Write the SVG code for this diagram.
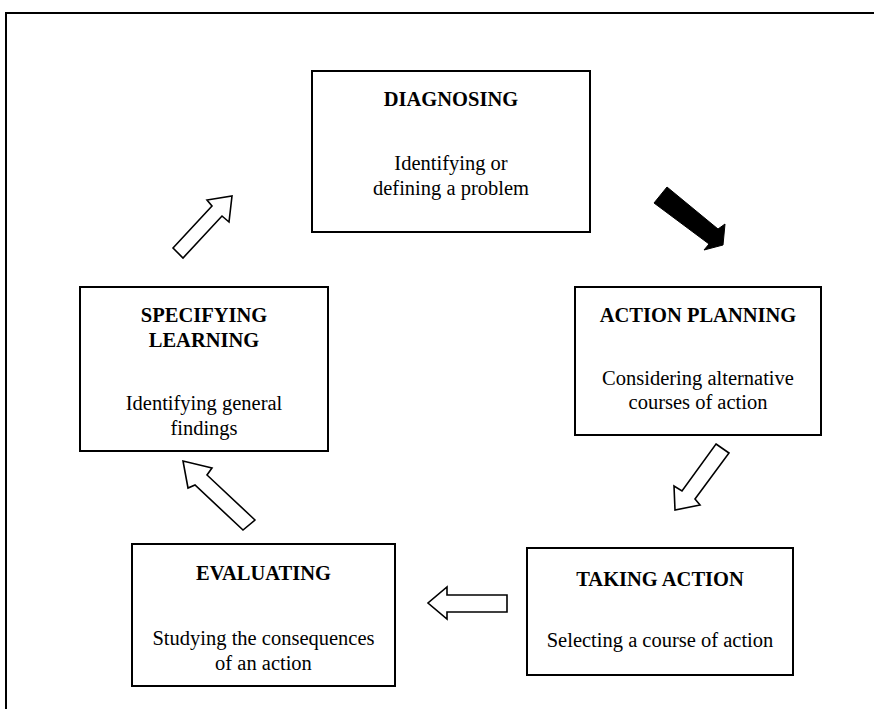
<svg xmlns="http://www.w3.org/2000/svg" width="874" height="709" viewBox="0 0 874 709">
<style>
.box{fill:#fff;stroke:#000;stroke-width:2}
.t{font-family:"Liberation Serif","Times New Roman",serif;font-weight:bold;font-size:20.5px;text-anchor:middle;fill:#000}
.b{font-family:"Liberation Serif","Times New Roman",serif;font-size:20.5px;text-anchor:middle;fill:#000}
.ah{fill:#fff;stroke:#000;stroke-width:1.6;stroke-linejoin:miter}
.af{fill:#000;stroke:#000;stroke-width:1}
</style>
<rect width="874" height="709" fill="#fff"/>
<path d="M6,709 V13 H874" fill="none" stroke="#000" stroke-width="2"/>
<g id="diagnosing">
<rect class="box" x="312" y="71" width="278" height="161"/>
<text class="t" x="451" y="106">DIAGNOSING</text>
<text class="b" x="451" y="170">Identifying or</text>
<text class="b" x="451" y="195">defining a problem</text>
</g>
<g id="action-planning">
<rect class="box" x="575" y="287" width="246" height="148"/>
<text class="t" x="698" y="322">ACTION PLANNING</text>
<text class="b" x="698" y="385">Considering alternative</text>
<text class="b" x="698" y="409">courses of action</text>
</g>
<g id="taking-action">
<rect class="box" x="527" y="548" width="266" height="127"/>
<text class="t" x="660" y="586">TAKING ACTION</text>
<text class="b" x="660" y="647">Selecting a course of action</text>
</g>
<g id="evaluating">
<rect class="box" x="132" y="544" width="263" height="142"/>
<text class="t" x="263.5" y="580">EVALUATING</text>
<text class="b" x="263.5" y="645">Studying the consequences</text>
<text class="b" x="263.5" y="670">of an action</text>
</g>
<g id="specifying-learning">
<rect class="box" x="80" y="287" width="248" height="164"/>
<text class="t" x="204" y="322">SPECIFYING</text>
<text class="t" x="204" y="347">LEARNING</text>
<text class="b" x="204" y="410">Identifying general</text>
<text class="b" x="204" y="435">findings</text>
</g>
<g id="connectors">
<polygon class="af" points="654,203 667,187 718,229 725,224 723,245 704,250 709,244"/>
<polygon class="ah" points="716,444 729,453 695,499 700,505 675,510 674,486 682,491"/>
<polygon class="ah" points="507,595 447,595 447,587 428,603 447,619 447,612 507,612"/>
<polygon class="ah" points="255,520 207,475 212,468 183,461 188,488 195,485 243,530"/>
<polygon class="ah" points="173,248 212,206 207,200 232,196 229,222 222,216 183,258"/>
</g>
</svg>
